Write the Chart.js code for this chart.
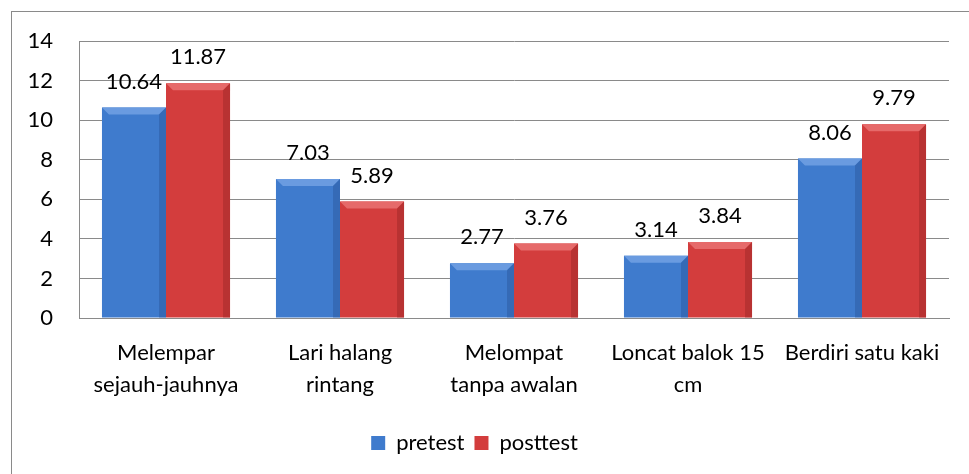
<!DOCTYPE html>
<html lang="id">
<head>
  <meta charset="UTF-8" />
  <title>Pretest vs Posttest</title>
  <script src="https://cdn.jsdelivr.net/npm/chart.js"></script>
  <style>
    html, body { margin: 0; padding: 0; background: #fff; overflow: hidden; }
    #wrap { position: relative; width: 969px; height: 474px; }
    #frame {
      position: absolute; left: 11px; top: 11px;
      width: 1200px; height: 800px;
      border: 1.5px solid #8a8a8a; box-sizing: border-box;
    }
    canvas { position: absolute; left: 0; top: 0; }
  </style>
</head>
<body>
  <div id="wrap">
    <div id="frame"></div>
    <canvas id="chart" width="969" height="474"></canvas>
  </div>

  <script>
    // data
    const categories = [
      ['Melempar', 'sejauh-jauhnya'],
      ['Lari halang', 'rintang'],
      ['Melompat', 'tanpa awalan'],
      ['Loncat balok 15', 'cm'],
      ['Berdiri satu kaki']
    ];
    const pretest = [10.64, 7.03, 2.77, 3.14, 8.06];
    const posttest = [11.87, 5.89, 3.76, 3.84, 9.79];
    const yTicks = [0, 2, 4, 6, 8, 10, 12, 14];

    const FONT = 'Lato, "DejaVu Sans", sans-serif';
    const FS = 22;
    const blue = { main: '#3f7bcd', dark: '#2e5fa6', light: '#6a9be0' };
    const red = { main: '#d33d3d', dark: '#a72c2c', light: '#e66a6a' };

    function barFill(c) {
      return ctx => {
        const el = ctx.element;
        if (!el || !isFinite(el.x)) return c.main;
        const g = ctx.chart.ctx.createLinearGradient(el.x - el.width / 2, 0, el.x + el.width / 2, 0);
        g.addColorStop(0, c.dark);
        g.addColorStop(0.12, c.main);
        g.addColorStop(0.88, c.main);
        g.addColorStop(1, c.dark);
        return g;
      };
    }

    // bevel on top of each bar + value labels
    const bevelAndLabels = {
      id: 'bevelAndLabels',
      afterDatasetsDraw(chart) {
        const ctx = chart.ctx;
        const cols = [blue, red];
        chart.data.datasets.forEach((ds, di) => {
          const meta = chart.getDatasetMeta(di);
          meta.data.forEach((el, i) => {
            const l = el.x - el.width / 2, r = el.x + el.width / 2;
            const t = el.y, b = el.base, bv = 7;
            ctx.save();
            ctx.fillStyle = cols[di].light;
            ctx.beginPath();
            ctx.moveTo(l, t); ctx.lineTo(r, t); ctx.lineTo(r - bv, t + bv); ctx.lineTo(l + bv, t + bv);
            ctx.closePath(); ctx.fill();
            ctx.fillStyle = cols[di].dark;
            ctx.globalAlpha = 0.6;
            ctx.beginPath();
            ctx.moveTo(r, t); ctx.lineTo(r, b); ctx.lineTo(r - bv, b); ctx.lineTo(r - bv, t + bv);
            ctx.closePath(); ctx.fill();
            ctx.restore();

            ctx.save();
            ctx.font = FS + 'px ' + FONT;
            ctx.fillStyle = '#000';
            ctx.textAlign = 'center';
            ctx.textBaseline = 'middle';
            ctx.fillText(ds.data[i].toFixed(2), el.x, el.y - 26);
            ctx.restore();
          });
        });
      }
    };

    new Chart('chart', {
      type: 'bar',
      data: {
        labels: categories,
        datasets: [
          { label: 'pretest', data: pretest, backgroundColor: barFill(blue), legendColor: blue.main },
          { label: 'posttest', data: posttest, backgroundColor: barFill(red), legendColor: red.main }
        ]
      },
      options: {
        responsive: false,
        animation: false,
        devicePixelRatio: 1,
        categoryPercentage: 0.736,
        barPercentage: 1,
        layout: { padding: { top: 41, right: 20, left: 0, bottom: 10 } },
        plugins: {
          tooltip: { enabled: false },
          legend: {
            position: 'bottom',
            labels: {
              font: { family: FONT, size: FS },
              color: '#000',
              boxWidth: 14,
              boxHeight: 14,
              padding: 10,
              generateLabels(chart) {
                return chart.data.datasets.map((ds, i) => ({
                  text: ds.label, fillStyle: ds.legendColor, strokeStyle: ds.legendColor,
                  lineWidth: 0, datasetIndex: i, fontColor: '#000'
                }));
              }
            }
          }
        },
        scales: {
          x: {
            grid: { display: false },
            border: { display: true, color: '#8a8a8a' },
            ticks: { font: { family: FONT, size: FS, lineHeight: 1.45 }, color: '#000', maxRotation: 0, autoSkip: false, padding: 11 },
            afterFit(s) { s.height = 104; }
          },
          y: {
            min: 0, max: 14,
            afterBuildTicks(s) { s.ticks = yTicks.map(v => ({ value: v })); },
            grid: { color: '#8a8a8a', drawTicks: false },
            border: { display: true, color: '#8a8a8a' },
            ticks: { font: { family: FONT, size: FS }, color: '#000', padding: 26 },
            afterFit(s) { s.width = 79; }
          }
        }
      },
      plugins: [bevelAndLabels]
    });
  </script>
</body>
</html>
